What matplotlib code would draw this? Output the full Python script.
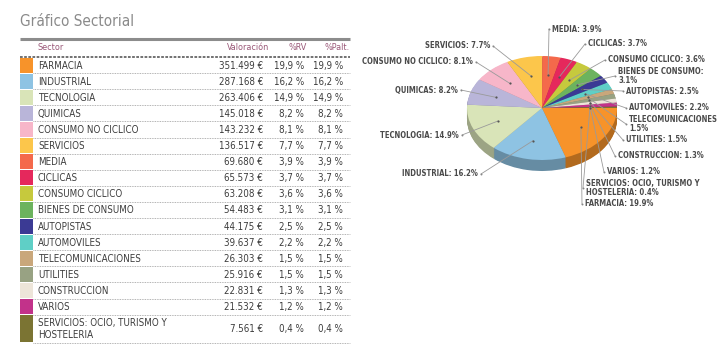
import numpy as np
import matplotlib.pyplot as plt
from matplotlib import font_manager
from matplotlib.patches import Rectangle
from matplotlib.colors import to_rgb

sectors = ['FARMACIA', 'INDUSTRIAL', 'TECNOLOGIA', 'QUIMICAS', 'CONSUMO NO CICLICO',
           'SERVICIOS', 'MEDIA', 'CICLICAS', 'CONSUMO CICLICO', 'BIENES DE CONSUMO',
           'AUTOPISTAS', 'AUTOMOVILES', 'TELECOMUNICACIONES', 'UTILITIES',
           'CONSTRUCCION', 'VARIOS', 'SERVICIOS: OCIO, TURISMO Y\nHOSTELERIA']
valoracion = [351499, 287168, 263406, 145018, 143232, 136517, 69680, 65573, 63208,
              54483, 44175, 39637, 26303, 25916, 22831, 21532, 7561]
pct_rv = [19.9, 16.2, 14.9, 8.2, 8.1, 7.7, 3.9, 3.7, 3.6, 3.1, 2.5, 2.2, 1.5, 1.5, 1.3, 1.2, 0.4]
pct_palt = [19.9, 16.2, 14.9, 8.2, 8.1, 7.7, 3.9, 3.7, 3.6, 3.1, 2.5, 2.2, 1.5, 1.5, 1.3, 1.2, 0.4]
colors = ['#f7932a', '#8ec3e3', '#d9e4b8', '#b9b5d9', '#f7b6c9', '#fcc64b', '#f4694b',
          '#e5285c', '#c6c93d', '#6cb35e', '#3b3a94', '#5fcfc6', '#c9a77b', '#98a283',
          '#ede5d9', '#c2328a', '#7b7433']
pie_labels = ['FARMACIA: 19.9%', 'INDUSTRIAL: 16.2%', 'TECNOLOGIA: 14.9%', 'QUIMICAS: 8.2%',
              'CONSUMO NO CICLICO: 8.1%', 'SERVICIOS: 7.7%', 'MEDIA: 3.9%', 'CICLICAS: 3.7%',
              'CONSUMO CICLICO: 3.6%', 'BIENES DE CONSUMO:\n3.1%', 'AUTOPISTAS: 2.5%',
              'AUTOMOVILES: 2.2%', 'TELECOMUNICACIONES\n1.5%', 'UTILITIES: 1.5%',
              'CONSTRUCCION: 1.3%', 'VARIOS: 1.2%', 'SERVICIOS: OCIO, TURISMO Y\nHOSTELERIA: 0.4%']
# label placement in pixels: (x, y, ha)
label_pos = [(585, 204, 'left'), (478, 174, 'right'), (459, 135, 'right'), (458, 90, 'right'),
             (473, 62, 'right'), (490, 46, 'right'), (552, 29, 'left'), (588, 44, 'left'),
             (608, 60, 'left'), (618, 76, 'left'), (626, 91, 'left'), (629, 108, 'left'),
             (629, 124, 'left'), (626, 140, 'left'), (618, 156, 'left'), (607, 172, 'left'),
             (586, 188, 'left')]

fonts = font_manager.fontManager.ttflist
names = {f.name for f in fonts}
has_cond = any(f.name == 'DejaVu Sans' and f.stretch == 'condensed' for f in fonts)
if 'Liberation Sans Narrow' in names:
    fam, stretch = 'Liberation Sans Narrow', 'normal'
elif has_cond:
    fam, stretch = 'DejaVu Sans', 'condensed'
else:
    fam, stretch = 'Lato', 'normal'
plt.rcParams['font.family'] = [fam, 'DejaVu Sans']
plt.rcParams['font.stretch'] = stretch

W, H = 719, 351
fig = plt.figure(figsize=(W / 100, H / 100), dpi=100)
ax = fig.add_axes([0, 0, 1, 1])
ax.set_xlim(0, W)
ax.set_ylim(H, 0)
ax.axis('off')

ax.text(20, 21, 'Gráfico Sectorial', fontsize=11, color='#8a8a8a', va='center', ha='left')
ax.plot([20, 350], [39, 39], color='#8c8c8c', lw=2.2, solid_capstyle='butt')
hdr = '#9a5878'
ax.text(37, 48, 'Sector', fontsize=6.5, color=hdr, va='center')
ax.text(269, 48, 'Valoración', fontsize=6.5, color=hdr, va='center', ha='right')
ax.text(307, 48, '%RV', fontsize=6.5, color=hdr, va='center', ha='right')
ax.text(350, 48, '%Palt.', fontsize=6.5, color=hdr, va='center', ha='right')
ax.plot([20, 350], [56.5, 56.5], color='#666666', lw=1.3, ls=(0, (1.5, 0.8)))

def fmt_eur(v):
    return f'{v:,}'.replace(',', '.') + ' €'

def fmt_pct(v):
    return f'{v:.1f}'.replace('.', ',') + ' %'

row_h = 16.1
top = 57
for i, name in enumerate(sectors):
    h = row_h if '\n' not in name else 28
    y0 = top + i * row_h
    yc = y0 + h / 2
    ax.add_patch(Rectangle((20, y0 + 0.5), 13, h - 1, color=colors[i], lw=0))
    ax.text(38, yc + 0.5, name, fontsize=7.0, color='#3c3c3c', va='center', ha='left',
            linespacing=1.2)
    ax.text(263, yc + 0.5, fmt_eur(valoracion[i]), fontsize=7.0, color='#3c3c3c',
            va='center', ha='right')
    ax.text(304, yc + 0.5, fmt_pct(pct_rv[i]), fontsize=7.0, color='#3c3c3c',
            va='center', ha='right')
    ax.text(343, yc + 0.5, fmt_pct(pct_palt[i]), fontsize=7.0, color='#3c3c3c',
            va='center', ha='right')
    ax.plot([33, 350], [y0 + h, y0 + h], color='#9a9a9a', lw=0.6, ls=(0, (1, 1)))

# pie
cx, cy, rx, ry = 542, 108, 75, 52
axp = fig.add_axes([0, 0, 1, 1])
axp.patch.set_alpha(0)
depth = 11 / ry
dark = [tuple(c * 0.72 for c in to_rgb(col)) for col in colors]
for k in np.linspace(depth, 0, 16)[:-1]:
    axp.pie(valoracion, colors=dark, startangle=0, counterclock=False, center=(0, -k),
            wedgeprops=dict(linewidth=0))
wedges, _ = axp.pie(valoracion, colors=colors, startangle=0, counterclock=False,
                    wedgeprops=dict(linewidth=0))
axp.set_xlim(-cx / rx, (W - cx) / rx)
axp.set_ylim((cy - H) / ry, cy / ry)
axp.set_aspect('auto')
axp.axis('off')

for w, lab, (px, py, ha) in zip(wedges, pie_labels, label_pos):
    ang = np.deg2rad((w.theta1 + w.theta2) / 2)
    dx, dy = 0.64 * np.cos(ang), 0.64 * np.sin(ang)
    ex = px - 3 if ha == 'left' else px + 3
    lx, ly = (ex - cx) / rx, (cy - py) / ry
    axp.plot([dx, lx], [dy, ly], color='#9a9a9a', lw=0.6)
    axp.plot([dx], [dy], 'o', ms=1.6, color='#555555', mec='none')
    axp.plot([lx], [ly], 'o', ms=1.4, color='#888888', mec='none')
    axp.text((px - cx) / rx, (cy - py) / ry, lab, fontsize=5.5, fontweight='bold',
             color='#4a4a4a', ha=ha, va='center', linespacing=1.1)

fig.savefig('out.png', dpi=100)
